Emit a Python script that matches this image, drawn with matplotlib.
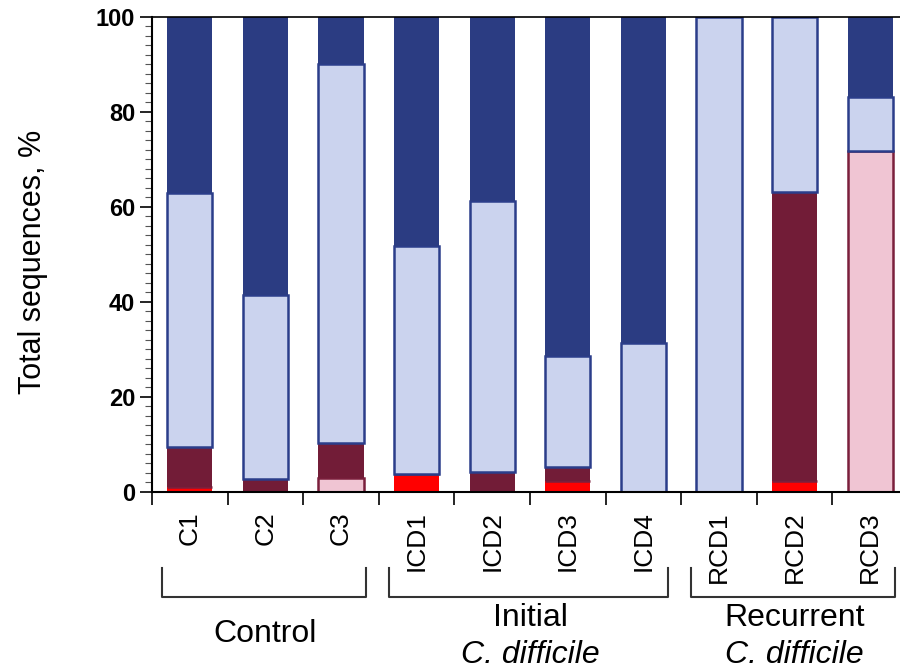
import matplotlib
matplotlib.use('Agg')
import numpy as np
import matplotlib.pyplot as plt
from matplotlib.ticker import MultipleLocator

plt.rcParams['font.family'] = ['Liberation Sans', 'DejaVu Sans']

samples = ['C1', 'C2', 'C3', 'ICD1', 'ICD2', 'ICD3', 'ICD4', 'RCD1', 'RCD2', 'RCD3']

# stacked segments, bottom to top (% of total sequences)
red = [0.9, 0, 0, 3.7, 0, 2.3, 0, 0, 2.3, 0]
pink = [0, 0, 2.8, 0, 0, 0, 0, 0, 0, 71.8]
maroon = [8.4, 2.6, 7.5, 0, 4.1, 2.9, 0, 0, 60.9, 0]
light_blue = [53.6, 38.9, 79.7, 48.1, 57.2, 23.4, 31.3, 100, 36.8, 11.4]
dark_blue = [37.1, 58.5, 10.0, 48.2, 38.7, 71.4, 68.7, 0, 0, 16.8]

groups = [('Control', None, 0, 2), ('Initial', 'C. difficile', 3, 6), ('Recurrent', 'C. difficile', 7, 9)]

segments = [
    (red, '#ff0000', 'none'),
    (pink, '#f0c5d3', '#7a1f3c'),
    (maroon, '#721c37', 'none'),
    (light_blue, '#cbd3ee', '#2b3d8a'),
    (dark_blue, '#2b3c82', 'none'),
]

fig = plt.figure(figsize=(9, 6.71), dpi=100)
ax = fig.add_axes([0.1689, 0.2675, 0.84, 0.7072])

x = np.arange(len(samples))
bottom = np.zeros(len(samples))
for vals, color, edge in segments:
    vals = np.array(vals, dtype=float)
    ax.bar(x, vals, 0.6, bottom=bottom, color=color, edgecolor=edge,
           linewidth=1.8 if edge != 'none' else 0, zorder=2)
    bottom += vals

ax.set_xlim(-0.5, 9.5)
ax.set_ylim(0, 100)
ax.spines['right'].set_visible(False)
ax.spines['top'].set_linewidth(1.2)
ax.spines['left'].set_linewidth(1.5)
ax.spines['bottom'].set_linewidth(1.5)

ax.yaxis.set_major_locator(MultipleLocator(20))
ax.yaxis.set_minor_locator(MultipleLocator(2))
ax.tick_params(axis='y', which='major', length=9, width=1.2, labelsize=17, pad=3)
ax.tick_params(axis='y', which='minor', length=5, width=0.8, color='#555555')
for lab in ax.get_yticklabels():
    lab.set_fontweight('bold')
ax.set_ylabel('Total sequences, %', fontsize=22)
ax.yaxis.set_label_coords(-0.137, 0.484)

ax.set_xticks(x)
ax.set_xticklabels(samples, rotation=90, fontsize=19)
ax.set_xticks(np.arange(-0.5, 9.6, 1), minor=True)
ax.tick_params(axis='x', which='major', length=0, pad=14)
ax.tick_params(axis='x', which='minor', length=9, width=1.2)

trans = ax.get_xaxis_transform()
for name, sub, i0, i1 in groups:
    x0, x1 = i0 - 0.37, i1 + 0.33
    ax.plot([x0, x0, x1, x1], [-0.161, -0.222, -0.222, -0.161], color='#333333',
            lw=1.5, transform=trans, clip_on=False)
    xc = (i0 + i1) / 2
    if sub is None:
        ax.text(xc, -0.300, name, ha='center', va='center', fontsize=23, transform=trans)
    else:
        ax.text(xc, -0.266, name, ha='center', va='center', fontsize=23, transform=trans)
        ax.text(xc, -0.345, sub, ha='center', va='center', fontsize=23, style='italic', transform=trans)

fig.savefig('out.png', dpi=100)
